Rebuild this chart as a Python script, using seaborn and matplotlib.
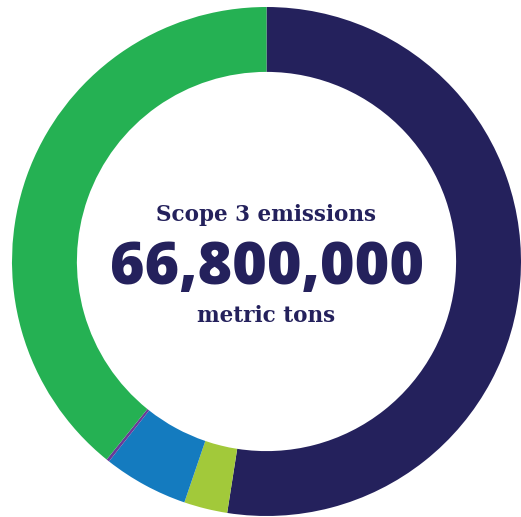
import matplotlib
matplotlib.use("Agg")
import matplotlib.pyplot as plt
import seaborn as sns

# Data (share of Scope 3 emissions, percent, read from the ring)
categories = ["Category A", "Category B", "Category C", "Category D", "Category E"]
shares = [52.47, 2.76, 5.39, 0.19, 39.19]
colors = ["#24215C", "#A2C93A", "#147BBF", "#6A3A98", "#25B153"]
title_text = "Scope 3 emissions"
total_text = "66,800,000"
unit_text = "metric tons"

sns.set_theme(style="white")
plt.rcParams["font.family"] = ["Roboto", "DejaVu Sans"]

fig = plt.figure(figsize=(5.21, 5.17), dpi=100)
ax = fig.add_axes([0, 0, 1, 1])
ax.pie(shares, colors=colors, startangle=90, counterclock=False,
       radius=1.0, wedgeprops=dict(width=0.255, edgecolor="none", linewidth=0,
                                   antialiased=True))
ax.set_xlim(-266.5 / 254.5, (521 - 266.5) / 254.5)
ax.set_ylim(-(517 - 261.5) / 254.5, 261.5 / 254.5)
ax.set_aspect("equal")
ax.axis("off")

navy = "#24215C"
ax.text(0, 0.159, title_text, ha="center", va="baseline", color=navy,
        fontsize=15.5, fontweight="bold", family=["DejaVu Serif"])
ax.text(0.004, -0.0884, total_text, ha="center", va="baseline", color=navy,
        fontsize=42.5, fontweight="heavy", family=["Open Sans"])
ax.text(0, -0.2365, unit_text, ha="center", va="baseline", color=navy,
        fontsize=15.5, fontweight="bold", family=["DejaVu Serif"])

fig.savefig("out.png", dpi=100, facecolor="white")
